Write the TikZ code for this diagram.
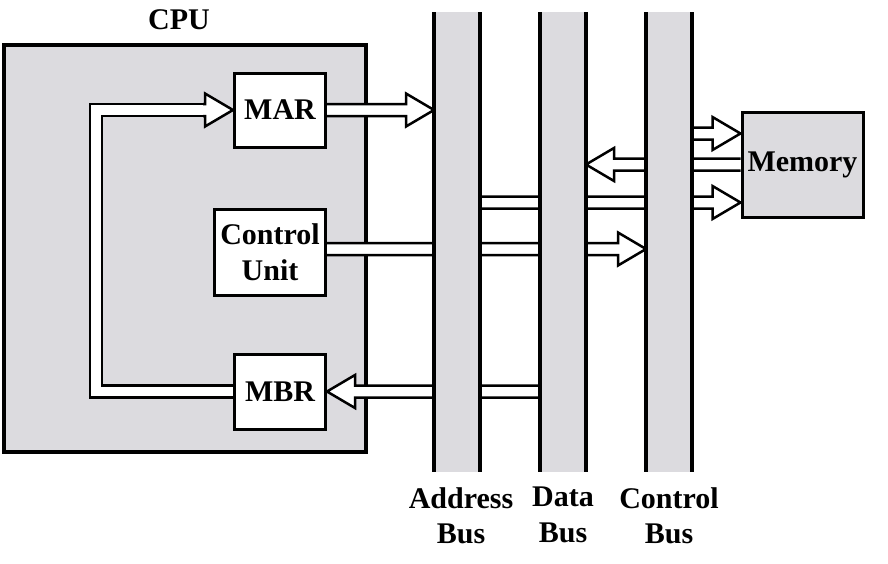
\documentclass[tikz,border=0pt]{standalone}
\usepackage{fontspec}
\setmainfont{Liberation Serif}
\usetikzlibrary{positioning,calc}
\definecolor{busgray}{HTML}{DCDBDF}
\newcommand{\shaftw}{6pt}
\newcommand{\headw}{16.5pt}
\newcommand{\headlen}{28pt}
\pgfdeclarelayer{back}
\pgfdeclarelayer{mid}
\pgfsetlayers{back,mid,main}
\tikzset{
    cpubox/.style={draw,line width=4pt,fill=busgray,minimum width=362pt,minimum height=407pt},
    regbox/.style={draw,line width=3pt,fill=white,align=center,inner sep=2pt},
    membox/.style={draw,line width=3pt,fill=busgray},
    bus/.style={fill=busgray,minimum width=46pt,minimum height=460pt,inner sep=0pt,outer sep=0pt},
    busedge/.style={line width=4pt},
    buslabel/.style={align=center,inner sep=0pt},
    busline/.style={draw,double=white,double distance=9.5pt,line width=2.5pt},
    busarrow/.style={draw,fill=white,line width=2.5pt,to path={
        let \p1=(\tikztostart),\p2=(\tikztotarget),
            \p3=($(\tikztotarget)!\headlen!(\tikztostart)$) in
        (\x1,\y1+\shaftw) -- (\x3,\y1+\shaftw) -- (\x3,\y1+\headw) -- (\x2,\y1)
        -- (\x3,\y1-\headw) -- (\x3,\y1-\shaftw) -- (\x1,\y1-\shaftw)}},
}

\begin{document}
\begin{tikzpicture}[x=1pt,y=-1pt,font=\bfseries\fontsize{30}{35.5}\selectfont]
    \useasboundingbox (0,0) rectangle (888,563);

    \begin{pgfonlayer}{back}
        \node[cpubox] (cpu) at (185,248.5) {};
    \end{pgfonlayer}
    \node[above=13pt of cpu,xshift=-6pt,inner sep=0pt] (cputitle) {CPU};

    \node[regbox,minimum width=91pt,minimum height=74pt] (mar) at (280,110) {MAR};
    \node[regbox,minimum width=111pt,minimum height=86pt] (cu) at (270,252) {Control\\Unit};
    \node[regbox,minimum width=91pt,minimum height=75pt] (mbr) at (280,391.5) {MBR};

    \node[bus] (abus) at (457,242) {};
    \node[bus,right=60pt of abus] (dbus) {};
    \node[bus,right=60pt of dbus] (cbus) {};
    \foreach \b in {abus,dbus,cbus}
        \draw[busedge] (\b.north west) -- (\b.south west) (\b.north east) -- (\b.south east);

    \node[membox,minimum width=121pt,minimum height=105pt] (mem) at (802.5,164.5) {Memory};

    \node[buslabel,below=15pt of abus,xshift=4pt] (alabel) {Address\\Bus};
    \node[buslabel,below=15pt of dbus] (dlabel) {Data\\Bus};
    \node[buslabel,below=15pt of cbus] (clabel) {Control\\Bus};

    % transfers between registers, buses and memory
    \begin{pgfonlayer}{mid}
        \coordinate (bend) at (96,0);
        \coordinate (memhi) at ([yshift=31pt]mem.west);
        \coordinate (memlo) at ([yshift=-38pt]mem.west);
        \coordinate (cuout) at ([yshift=3pt]cu.east);
        \draw[busline] (mbr.west) -- (bend |- mbr.west) -- (bend |- mar.west) -- ([xshift=-27pt]mar.west);
        \path
        ([xshift=-30pt]mar.west) edge[busarrow] (mar.west)
        (mar.east) edge[busarrow] (abus.west |- mar.east)
        (cuout) edge[busarrow] (cbus.west |- cuout)
        (dbus.west |- mbr.east) edge[busarrow] (mbr.east)
        (cbus.east |- memhi) edge[busarrow] (memhi)
        (mem.west) edge[busarrow] (dbus.east |- mem.west)
        (abus.east |- memlo) edge[busarrow] (memlo);
    \end{pgfonlayer}
\end{tikzpicture}
\end{document}
